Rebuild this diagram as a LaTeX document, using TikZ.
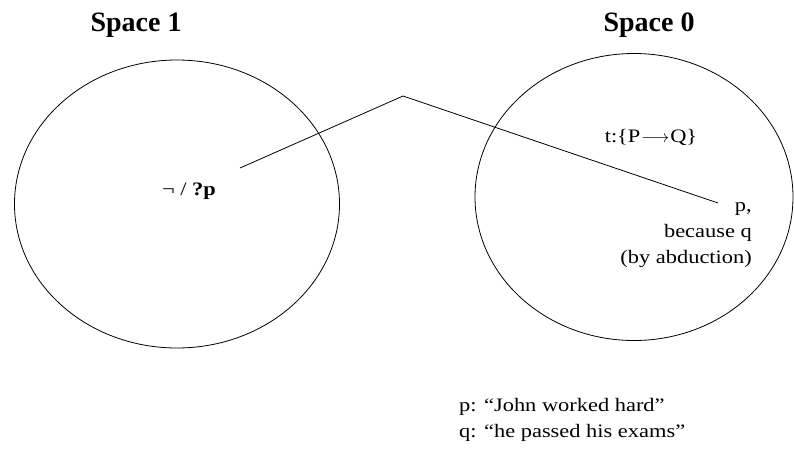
\documentclass[tikz,border=0pt]{standalone}
\usepackage{fontspec}
\setmainfont{Liberation Serif}
\newfontfamily\wideserif[FakeStretch=1.18]{Liberation Serif}
\usepackage{tikz}
\usetikzlibrary{shapes.geometric}

\begin{document}
\begin{tikzpicture}[x=1pt, y=-1pt,
  every node/.style={text=black, inner sep=0pt},
  spacebox/.style={
    ellipse, draw=black, line width=0.8pt,
    inner sep=0pt
  },
  titletext/.style={
    font=\fontsize{28}{32}\selectfont\bfseries
  },
  bodytext/.style={
    font=\wideserif\fontsize{19}{26}\selectfont
  },
  linkline/.style={
    draw=black, line width=0.8pt
  }
]
  \useasboundingbox (0,0) rectangle (794,450);

  % Espacios mentales
  \node[spacebox, minimum width=325, minimum height=288] (sp1) at (177,204) {};
  \node[spacebox, minimum width=318, minimum height=287] (sp0) at (634,197) {};

  % Titulos
  \node[titletext] (t1) at (136,25) {Space 1};
  \node[titletext] (t0) at (649,25) {Space 0};

  % Contenido
  \node[bodytext] (neg) at (189,191) {¬ / \textbf{?p}};
  \node[bodytext] (impl) at (651,137) {t:\{P\kern1pt$\longrightarrow$\kern1pt Q\}};
  \node[bodytext, align=right, anchor=east] (abd) at (752,235)
    {p,\\ because q\\ (by abduction)};

  % Leyenda
  \node[bodytext, align=left, anchor=west] (key) at (459,420)
    {p: “John worked hard”\\ q: “he passed his exams”};

  % Conector
  \coordinate (from) at (240,168);
  \coordinate (apex) at (403,96);
  \coordinate (to) at (718,203);
  \draw[linkline] (from) -- (apex) -- (to);
\end{tikzpicture}
\end{document}
